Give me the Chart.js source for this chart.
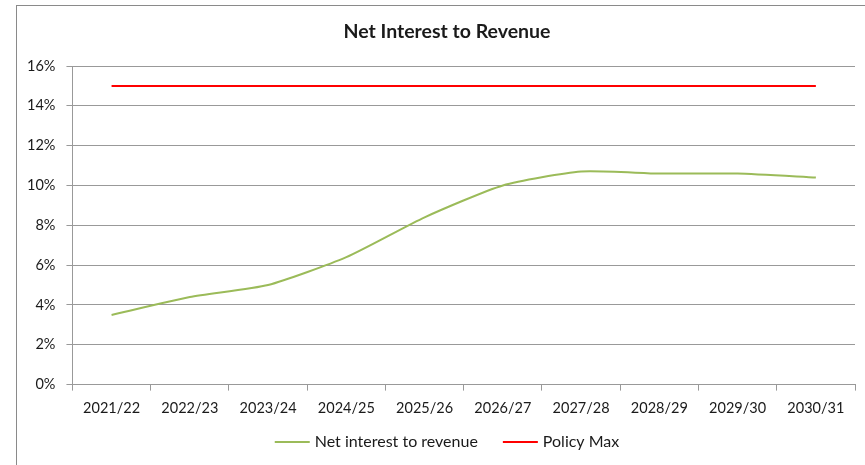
<!DOCTYPE html>
<html>
<head>
<meta charset="utf-8">
<script src="https://cdn.jsdelivr.net/npm/chart.js@4.4.1/dist/chart.umd.min.js"></script>
<style>
  html, body { margin: 0; padding: 0; background: #ffffff; overflow: hidden; }
  #frame {
    position: absolute; left: 16px; top: 5px;
    width: 900px; height: 500px;
    border-left: 1.5px solid #8a8a8a; border-top: 1.5px solid #8a8a8a;
    pointer-events: none;
  }
  #wrap { position: absolute; left: 0; top: 0; width: 865px; height: 465px; }
</style>
</head>
<body>
<div id="wrap"><canvas id="chart" width="865" height="465"></canvas></div>
<div id="frame"></div>
<script>
// Financial years shown on the x axis
const years = ['2021/22', '2022/23', '2023/24', '2024/25', '2025/26',
               '2026/27', '2027/28', '2028/29', '2029/30', '2030/31'];

// Net interest as a percentage of revenue
const netInterestToRevenue = [3.5, 4.4, 5.0, 6.4, 8.4, 10.0, 10.7, 10.6, 10.6, 10.4];

// Policy ceiling (percent)
const policyMax = [15, 15, 15, 15, 15, 15, 15, 15, 15, 15];

// Y axis range and step (percent)
const yMin = 0, yMax = 16, yStep = 2;

const chartTitle = 'Net Interest to Revenue';

const FONT = "Lato, 'Open Sans', sans-serif";
const TEXT = '#1a1a1a';
const GREEN = '#9bbb59';
const RED = '#ff0000';
const GRID = '#999999';

// Title and legend share the same horizontal centre line
const CENTRE_X = 447;

// Chart heading, centred above the plot
const headingPlugin = {
  id: 'heading',
  afterDraw(chart) {
    const ctx = chart.ctx;
    ctx.save();
    ctx.font = 'bold 19.5px ' + FONT;
    ctx.fillStyle = TEXT;
    ctx.textAlign = 'center';
    ctx.textBaseline = 'middle';
    ctx.fillText(chartTitle, CENTRE_X, 32);
    ctx.restore();
  }
};

// Legend drawn as a single centred row below the x axis: short line + series name
const lineLegend = {
  id: 'lineLegend',
  afterDraw(chart) {
    const ctx = chart.ctx;
    const sets = chart.data.datasets;
    const fontSize = 16;
    const lineLen = 35, textGap = 5, itemGap = 25;
    ctx.save();
    ctx.font = fontSize + 'px ' + FONT;
    const widths = sets.map(ds => lineLen + textGap + ctx.measureText(ds.label).width);
    const total = widths.reduce((a, b) => a + b, 0) + itemGap * (sets.length - 1);
    const y = 442;
    let x = CENTRE_X - total / 2;
    sets.forEach((ds, i) => {
      ctx.strokeStyle = ds.borderColor;
      ctx.lineWidth = 2;
      ctx.beginPath();
      ctx.moveTo(x, y);
      ctx.lineTo(x + lineLen, y);
      ctx.stroke();
      ctx.fillStyle = TEXT;
      ctx.textBaseline = 'middle';
      ctx.textAlign = 'left';
      ctx.fillText(ds.label, x + lineLen + textGap, y);
      x += widths[i] + itemGap;
    });
    ctx.restore();
  }
};

new Chart(document.getElementById('chart'), {
  type: 'line',
  data: {
    labels: years,
    datasets: [
      {
        label: 'Net interest to revenue',
        data: netInterestToRevenue,
        borderColor: GREEN,
        backgroundColor: GREEN,
        borderWidth: 2,
        pointRadius: 0,
        tension: 0.2
      },
      {
        label: 'Policy Max',
        data: policyMax,
        borderColor: RED,
        backgroundColor: RED,
        borderWidth: 2,
        pointRadius: 0,
        tension: 0
      }
    ]
  },
  plugins: [headingPlugin, lineLegend],
  options: {
    responsive: false,
    animation: false,
    devicePixelRatio: 1,
    layout: { padding: { left: 16, right: 10, top: 66, bottom: 39 } },
    plugins: {
      title: { display: false },
      legend: { display: false },
      tooltip: { enabled: false }
    },
    scales: {
      x: {
        offset: true,
        grid: {
          offset: true,
          drawOnChartArea: false,
          drawTicks: true,
          tickLength: 6,
          color: GRID
        },
        border: { display: true, color: GRID, width: 1 },
        ticks: {
          color: TEXT,
          font: { family: FONT, size: 14.5 },
          padding: 9,
          maxRotation: 0,
          autoSkip: false
        }
      },
      y: {
        min: yMin,
        max: yMax,
        grid: {
          color: GRID,
          lineWidth: 1,
          drawTicks: true,
          tickLength: 6
        },
        border: { display: true, color: GRID, width: 1 },
        ticks: {
          stepSize: yStep,
          color: TEXT,
          font: { family: FONT, size: 14.5 },
          padding: 11,
          callback: v => v + '%'
        }
      }
    }
  }
});
</script>
</body>
</html>
